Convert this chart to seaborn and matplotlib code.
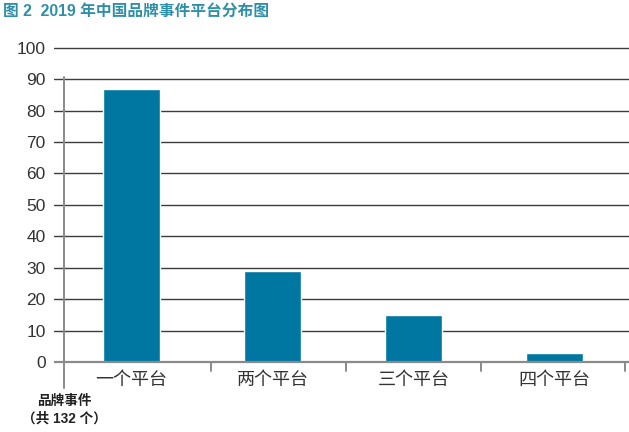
import matplotlib
matplotlib.use("Agg")
import matplotlib.pyplot as plt
import seaborn as sns
import pandas as pd

categories = ["一个平台", "两个平台", "三个平台", "四个平台"]
values = [87, 29, 15, 3]
y_ticks = [0, 10, 20, 30, 40, 50, 60, 70, 80, 90, 100]
title = "图 2  2019 年中国品牌事件平台分布图"
axis_note = "品牌事件\n（共 132 个）"

sns.set_theme(style="white")
plt.rcParams['font.family'] = ['Liberation Sans', 'Noto Sans CJK SC', 'DejaVu Sans']

W, H = 629, 432
fig = plt.figure(figsize=(W / 100, H / 100), dpi=100)
bottom_px = 368
top_px = 40
ax = fig.add_axes([54 / W, (H - bottom_px) / H, (629 - 54) / W, (bottom_px - top_px) / H])

df = pd.DataFrame({"cat": categories, "val": values})
sns.barplot(data=df, x="cat", y="val", color="#0077A0", saturation=1,
            width=0.405, ax=ax, zorder=3)

# layout in data space
px_per_cat = 141.0
x0_px = 131.5
ax.set_xlim((54 - x0_px) / px_per_cat, (629 - x0_px) / px_per_cat)
ppu = (362 - 47.7) / 100.0
ax.set_ylim(-(bottom_px - 362) / ppu, 100 + (47.7 - top_px) / ppu)

for s in ax.spines.values():
    s.set_visible(False)

# gridlines
for t in y_ticks[1:]:
    ax.axhline(t, color="#3c3c3c", lw=1.0, zorder=1)
ax.axhline(0, color="#8a8a8a", lw=1.6, zorder=4)

# left vertical line
spine_x = (64 - x0_px) / px_per_cat
ax.plot([spine_x, spine_x], [-(388 - 362) / ppu, 100 - (77 - 47.7) / ppu],
        color="#8a8a8a", lw=1.4, clip_on=False, zorder=4)

# category separator ticks
for px in [211, 345.5, 481, 625]:
    xd = (px - x0_px) / px_per_cat
    ax.plot([xd, xd], [0, -(371 - 362) / ppu], color="#8a8a8a", lw=1.4,
            clip_on=False, zorder=4)

ax.set_yticks(y_ticks)
ax.set_yticklabels([str(t) for t in y_ticks], fontsize=12.5, color="#333333")
ax.tick_params(axis="y", length=0, pad=6)
ax.set_xticks(range(len(categories)))
ax.set_xticklabels(categories, fontsize=13, color="#333333")
ax.tick_params(axis="x", length=0, pad=3)
ax.set_xlabel("")
ax.set_ylabel("")

fig.text(3 / W, 1 - 11 / H, title, fontsize=11.3, fontweight="bold",
         color="#2E8FA8", ha="left", va="center")
fig.text(64 / W, 1 - 410 / H, axis_note, fontsize=9.8, fontweight="bold",
         color="#222222", ha="center", va="center", linespacing=1.3)

fig.savefig("out.png", dpi=100)
